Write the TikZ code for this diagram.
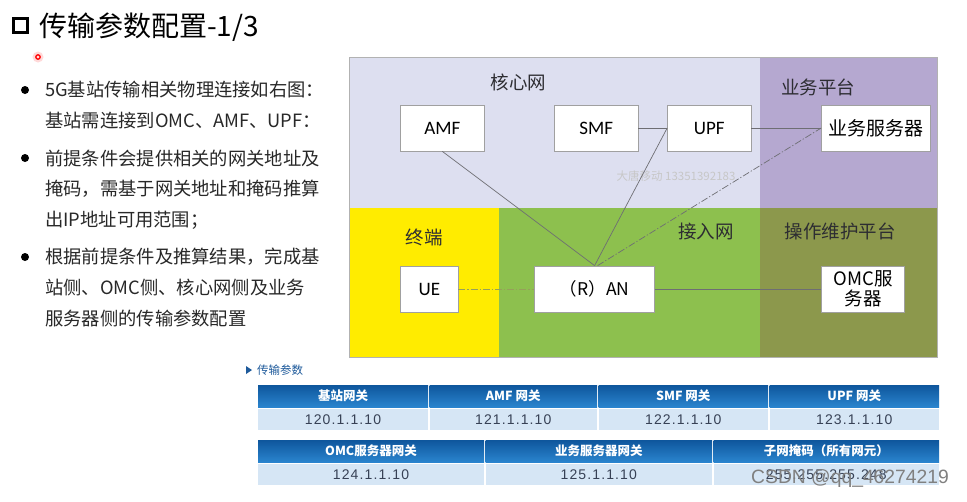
\documentclass[tikz,border=0pt]{standalone}
\usepackage{fontspec}
\setmainfont{Noto Sans CJK SC}
\newfontfamily\latf{Carlito}
\newfontfamily\tabf[LetterSpace=8]{Liberation Sans}
\newfontfamily\wmf{Liberation Sans}
\definecolor{corebg}{RGB}{221,223,240}
\definecolor{svcbg}{RGB}{181,168,208}
\definecolor{uebg}{RGB}{255,236,0}
\definecolor{anbg}{RGB}{141,192,78}
\definecolor{ombg}{RGB}{140,152,76}
\definecolor{boxgray}{RGB}{160,160,160}
\definecolor{linegray}{RGB}{110,110,115}
\definecolor{uelink}{RGB}{150,160,90}
\definecolor{txtdark}{RGB}{45,45,50}
\definecolor{bodytxt}{RGB}{40,40,40}
\definecolor{hdrtop}{RGB}{14,86,156}
\definecolor{hdrbot}{RGB}{42,132,206}
\definecolor{datfill}{RGB}{214,230,245}
\definecolor{datatxt}{RGB}{55,65,85}
\definecolor{lblblue}{RGB}{30,90,155}
\begin{document}
\begin{tikzpicture}[x=1pt,y=-1pt,
  box/.style={draw=boxgray, fill=white, line width=0.8pt, inner sep=0pt, align=center, minimum height=46pt},
  link/.style={draw=linegray, line width=0.7pt},
  ddot/.style={link, dash pattern=on 7pt off 2pt on 1.2pt off 2pt},
  region/.style={font=\fontsize{18.5}{20}\selectfont, text=txtdark, inner sep=0pt},
  bodyline/.style={anchor=west, inner sep=0pt, text=bodytxt, font=\fontsize{18.3}{20}\selectfont},
  hdr/.style={top color=hdrtop, bottom color=hdrbot, draw=none, text=white, font=\fontsize{12.5}{14}\selectfont\bfseries, inner sep=0pt, minimum height=22pt},
  dat/.style={fill=datfill, text=datatxt, font=\tabf\fontsize{14}{16}\selectfont, inner sep=0pt, minimum height=21.5pt},
]
\useasboundingbox[fill=white] (0,0) rectangle (967,501);

% title
\draw[line width=3pt] (13.5,18.5) rectangle (27,32);
\node[anchor=west, inner sep=0pt, font=\fontsize{28}{30}\selectfont, text=black] (title) at (39,27) {传输参数配置-1/3};
\fill[red!15] (38,57) circle (5.5);
\draw[red, line width=1.3pt] (38,57) circle (2.2);

% bullets
\fill[black] (25,90) circle (4);
\fill[black] (25,158) circle (4);
\fill[black] (25,257) circle (4);
\node[bodyline] (l1) at (45,90) {5G基站传输相关物理连接如右图：};
\node[bodyline] (l2) at (45,121) {基站需连接到OMC、AMF、UPF：};
\node[bodyline] (l3) at (45,158) {前提条件会提供相关的网关地址及};
\node[bodyline] (l4) at (45,189) {掩码，需基于网关地址和掩码推算};
\node[bodyline] (l5) at (45,220) {出IP地址可用范围；};
\node[bodyline] (l6) at (45,257) {根据前提条件及推算结果，完成基};
\node[bodyline] (l7) at (45,288) {站侧、OMC侧、核心网侧及业务};
\node[bodyline] (l8) at (45,319) {服务器侧的传输参数配置};

% regions
\fill[corebg] (349,57) rectangle (760,208);
\fill[svcbg] (760,57) rectangle (937,208);
\fill[uebg] (349,208) rectangle (499,357);
\fill[anbg] (499,208) rectangle (760,357);
\fill[ombg] (760,208) rectangle (937,357);
\draw[gray!60, line width=0.5pt] (349,57) rectangle (937,357);

\node[region] (rcore) at (518.6,82) {核心网};
\node[region] (rsvc) at (818,87) {业务平台};
\node[region] (rue) at (424,237) {终端};
\node[region] (ran_l) at (706,231) {接入网};
\node[region] (rom) at (840,231) {操作维护平台};

\node[text=black!22, font=\fontsize{11.5}{12}\selectfont, inner sep=0pt] (wm1) at (676,176) {大唐移动 13351392183};

% boxes
\node[box, minimum width=83.4pt, font=\latf\fontsize{19}{20}\selectfont] (amf) at (442.3,128) {AMF};
\node[box, minimum width=83.4pt, font=\latf\fontsize{19}{20}\selectfont] (smf) at (596.3,128) {SMF};
\node[box, minimum width=83.4pt, font=\latf\fontsize{19}{20}\selectfont] (upf) at (709.3,128) {UPF};
\node[box, minimum width=108.8pt, font=\fontsize{19}{20}\selectfont] (srv) at (876,128) {业务服务器};
\node[box, minimum width=57.4pt, font=\latf\fontsize{19}{20}\selectfont] (ue) at (429.3,289) {UE};
\node[box, minimum width=120pt, font=\fontsize{17.5}{19}\selectfont] (ran) at (594.6,289) {（R）AN};
\node[box, minimum width=83.2pt, font=\fontsize{18.5}{20}\selectfont] (omc) at (863.2,289) {OMC服\\务器};

% connectors
\draw[link] (amf.south) -- (ran.north);
\draw[link] (ran.north) -- (upf.west);
\draw[link] (smf.east) -- (upf.west);
\draw[link] (upf.east) -- (srv.west);
\draw[ddot] ([xshift=3pt]ran.north) -- (srv.west);
\draw[ddot, draw=uelink] (ue.east) -- (ran.west);
\draw[link] (ran.east) -- (omc.west);

% parameter label
\fill[lblblue] (246,366) -- (252,370) -- (246,374) -- cycle;
\node[anchor=west, inner sep=0pt, text=lblblue, font=\fontsize{11.5}{12}\selectfont] (plbl) at (257,370) {传输参数};

% table 1
\node[hdr, minimum width=170pt] (h11) at (343,396) {基站网关};
\node[hdr, minimum width=167.5pt] (h12) at (513.25,396) {AMF 网关};
\node[hdr, minimum width=169.5pt] (h13) at (683.25,396) {SMF 网关};
\node[hdr, minimum width=169.5pt] (h14) at (854.25,396) {UPF 网关};
\node[dat, minimum width=170pt] (d11) at (343,419.25) {120.1.1.10};
\node[dat, minimum width=167.5pt] (d12) at (513.25,419.25) {121.1.1.10};
\node[dat, minimum width=169.5pt] (d13) at (683.25,419.25) {122.1.1.10};
\node[dat, minimum width=169.5pt] (d14) at (854.25,419.25) {123.1.1.10};

% table 2
\node[hdr, minimum width=226pt] (h21) at (371,451) {OMC服务器网关};
\node[hdr, minimum width=226.5pt] (h22) at (598.75,451) {业务服务器网关};
\node[hdr, minimum width=225.5pt] (h23) at (826.25,451) {子网掩码（所有网元）};
\node[dat, minimum width=226pt] (d21) at (371,474.25) {124.1.1.10};
\node[dat, minimum width=226.5pt] (d22) at (598.75,474.25) {125.1.1.10};
\node[dat, minimum width=225.5pt] (d23) at (826.25,474.25) {255.255.255.248};

\node[anchor=west, inner sep=0pt, text=black!50, font=\wmf\fontsize{19.3}{20}\selectfont] (wm2) at (751,479) {CSDN @qq\_46274219};
\end{tikzpicture}
\end{document}
